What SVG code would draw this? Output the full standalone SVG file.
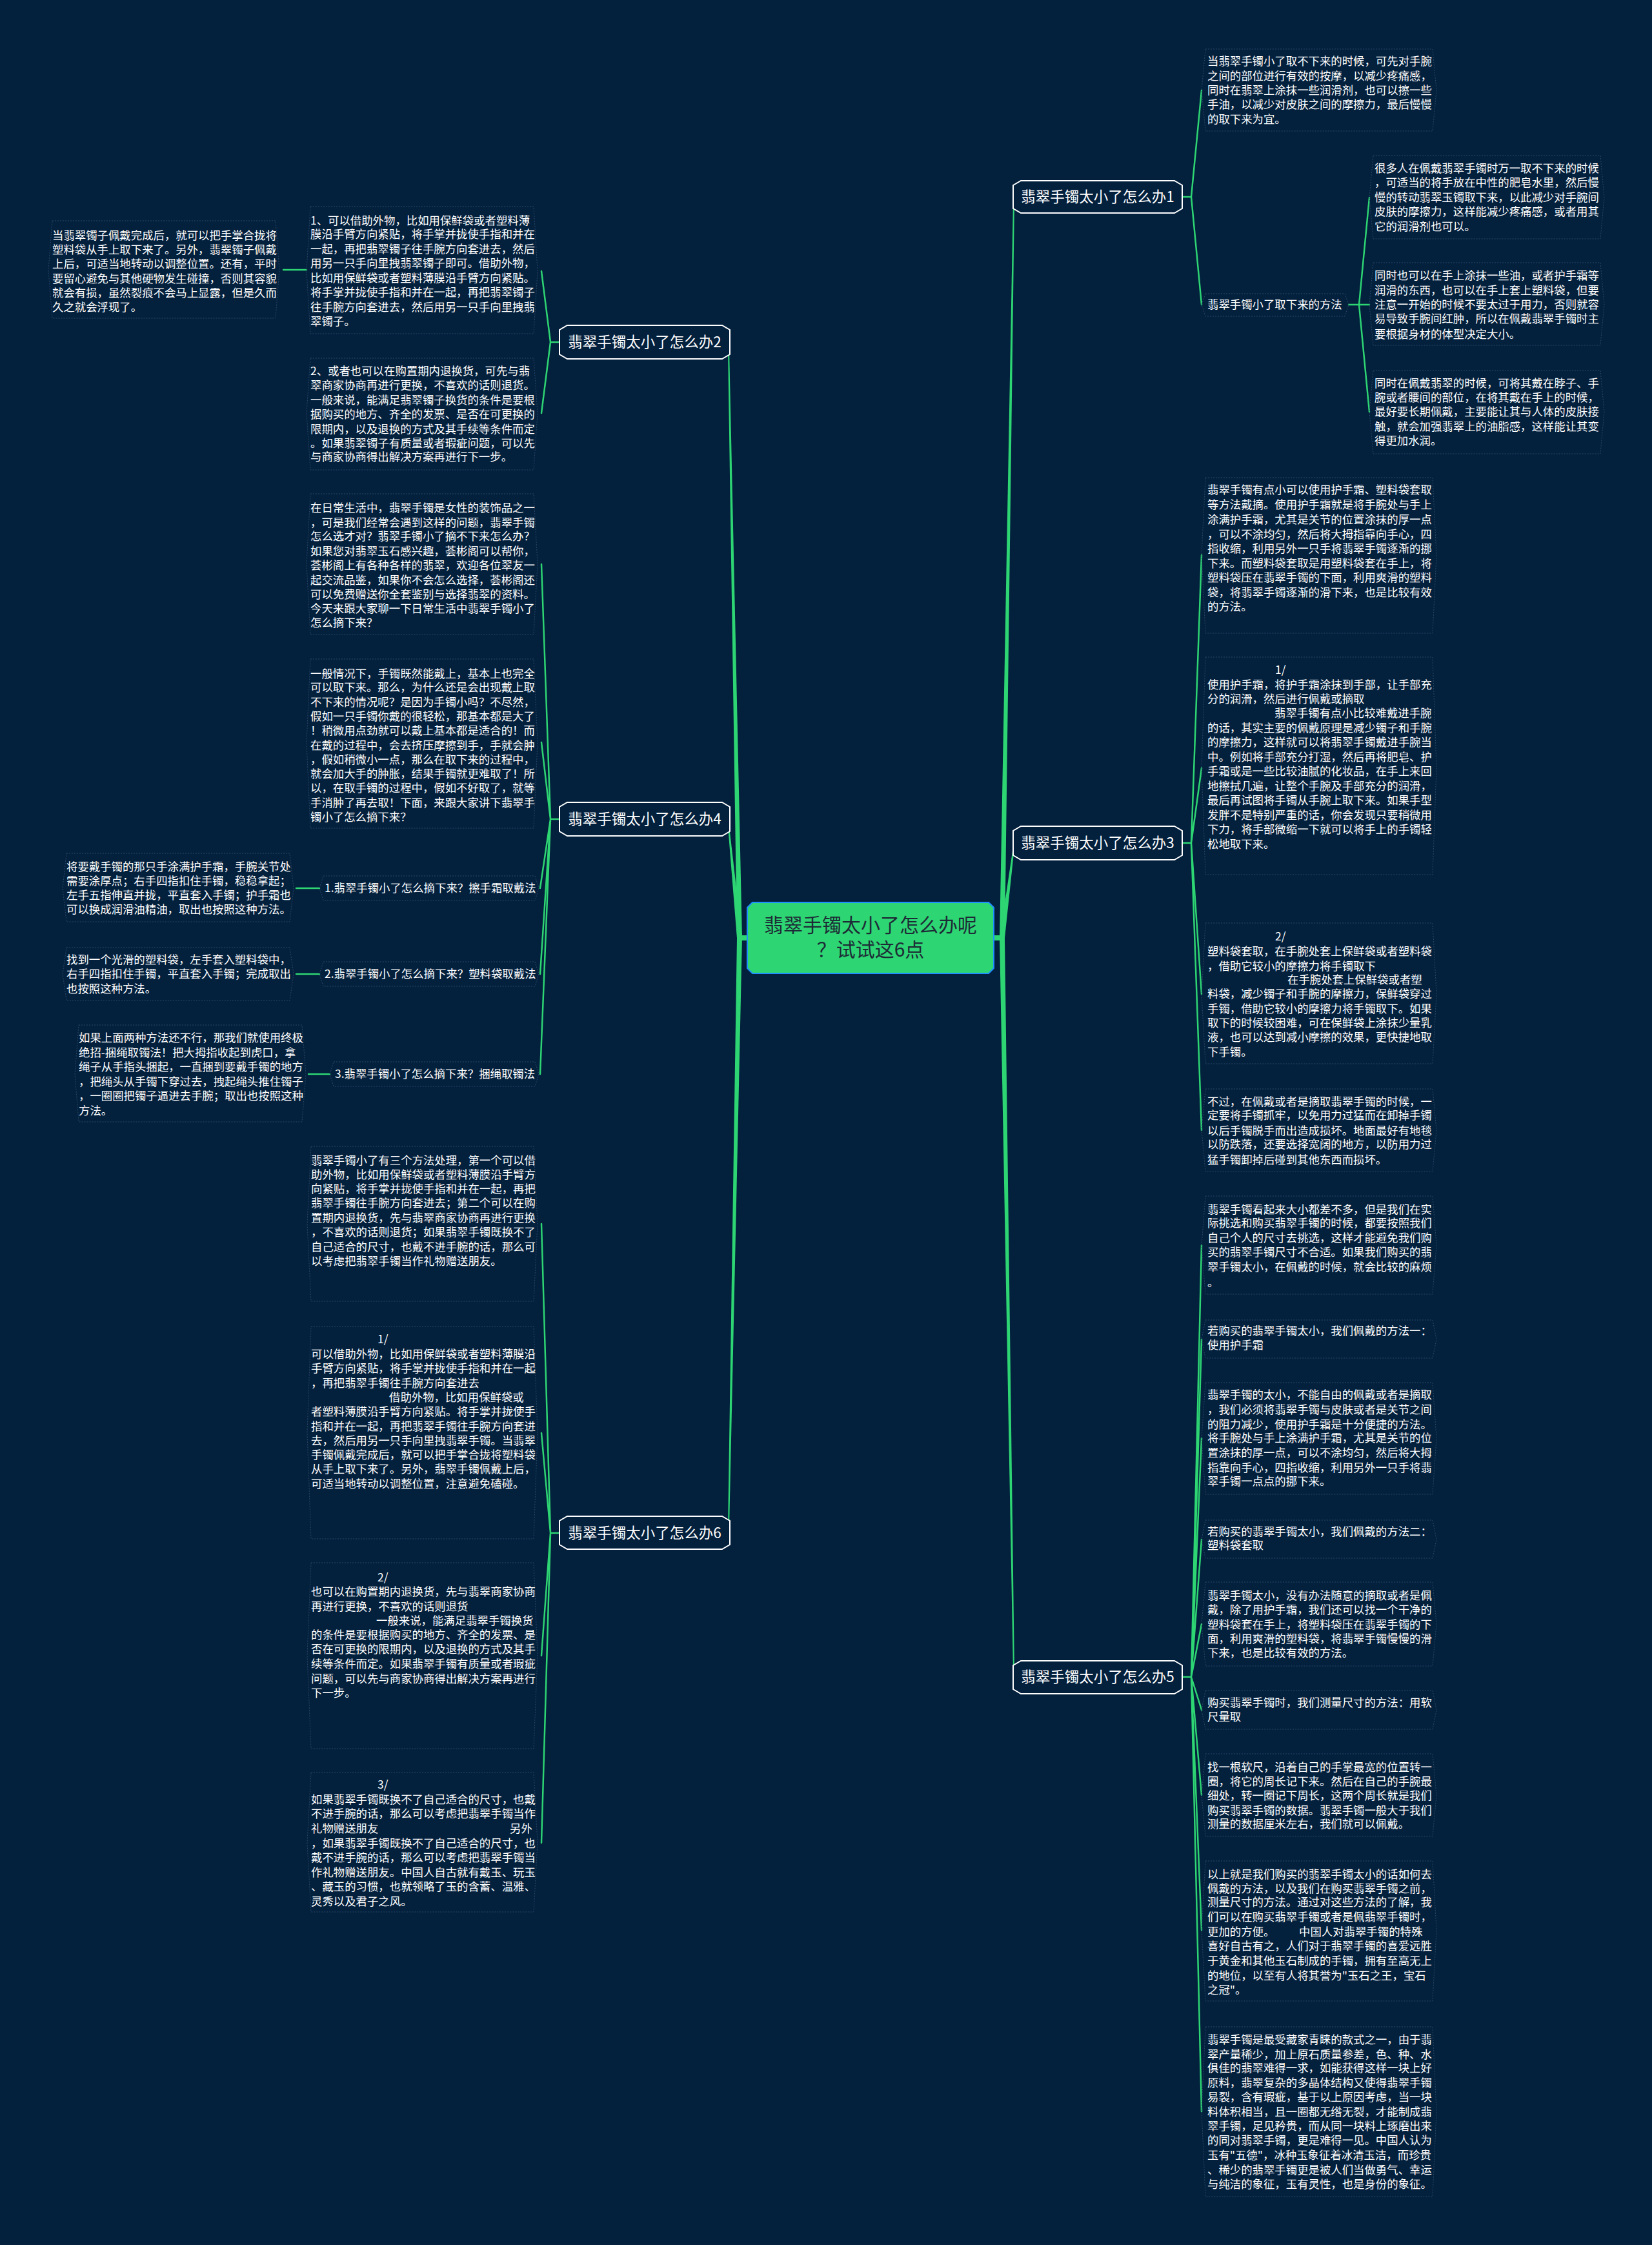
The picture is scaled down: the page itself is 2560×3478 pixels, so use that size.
<svg xmlns="http://www.w3.org/2000/svg" width="2560" height="3478" viewBox="0 0 2560 3478">
<style>
.t{font-family:"Noto Sans CJK SC","Noto Sans",sans-serif;font-size:17.4px;fill:#ffffff}
.bt{font-family:"Noto Sans CJK SC","Noto Sans",sans-serif;font-size:22.5px;fill:#ffffff;text-anchor:middle}
.ct{font-family:"Noto Sans CJK SC","Noto Sans",sans-serif;font-size:30px;fill:#1d2b36;text-anchor:middle}
.box{fill:none;stroke:#2a4866;stroke-width:1;stroke-dasharray:2 2}
.bn{fill:#03203d;stroke:#ffffff;stroke-width:2}
.cn{fill:#2ed573;stroke:#1e90ff;stroke-width:2}
.ln{fill:none;stroke:#2ed573;stroke-width:2.5;stroke-linecap:round;stroke-linejoin:round}
.tr{fill:#2ed573}
</style>
<rect width="2560" height="3478" fill="#03203d"/>

<g id="connectors">
<path class="tr" d="M1540,1449H1553V1457H1540Z"/>
<path class="tr" d="M1549,1453L1557,1453L1572,310L1570,310Z"/>
<path class="tr" d="M1549,1453L1557,1453L1572,1312L1570,1312Z"/>
<path class="tr" d="M1549,1453L1557,1453L1572,2590L1570,2590Z"/>
<path class="tr" d="M1158,1449H1145V1457H1158Z"/>
<path class="tr" d="M1142,1453L1150,1453L1130,540L1128,540Z"/>
<path class="tr" d="M1142,1453L1150,1453L1130,1280L1128,1280Z"/>
<path class="tr" d="M1142,1453L1150,1453L1130,2368L1128,2368Z"/>

<path class="ln" d="M1832,305H1846L1862,140M1846,305L1862,472"/>
<path class="ln" d="M2090,472H2106L2122,306M2106,472H2122M2106,472L2122,638"/>
<path class="ln" d="M1832,1306H1846L1862,860M1846,1306L1862,1190M1846,1306L1862,1540M1846,1306L1862,1751"/>
<path class="ln" d="M1832,2598H1846L1862,1929M1846,2598L1862,2075M1846,2598L1862,2228M1846,2598L1862,2385M1846,2598L1862,2516M1846,2598L1862,2649M1846,2598L1862,2781M1846,2598L1862,2990M1846,2598L1862,3271"/>

<path class="ln" d="M867,530H853L839,420M853,530L839,640"/>
<path class="ln" d="M475,418H439"/>
<path class="ln" d="M867,1269H853L839,874M853,1269L839,1150M853,1269L837,1376M853,1269L837,1509M853,1269L837,1664"/>
<path class="ln" d="M495,1376H459M495,1509H459M511,1664H478"/>
<path class="ln" d="M867,2375H853L839,1896M853,2375L839,2220M853,2375L839,2565M853,2375L839,2855"/>
</g>

<g id="center">
<path class="cn" d="M1166,1398H1532L1540,1406V1500L1532,1508H1166L1158,1500V1406Z"/>
<text class="ct" x="1349" y="1444">翡翠手镯太小了怎么办呢</text>
<text class="ct" x="1349" y="1482">？试试这6点</text>
</g>

<g id="b1">
<path class="bn" d="M1582,280H1820L1832,287V323L1820,330H1582L1570,323V287Z"/>
<text class="bt" x="1701" y="313">翡翠手镯太小了怎么办1</text>
</g>
<g id="b3">
<path class="bn" d="M1582,1280H1820L1832,1287V1325L1820,1332H1582L1570,1325V1287Z"/>
<text class="bt" x="1701" y="1314">翡翠手镯太小了怎么办3</text>
</g>
<g id="b5">
<path class="bn" d="M1582,2573H1820L1832,2580V2617L1820,2624H1582L1570,2617V2580Z"/>
<text class="bt" x="1701" y="2606">翡翠手镯太小了怎么办5</text>
</g>
<g id="b2">
<path class="bn" d="M879,504H1119L1131,511V549L1119,556H879L867,549V511Z"/>
<text class="bt" x="999" y="538">翡翠手镯太小了怎么办2</text>
</g>
<g id="b4">
<path class="bn" d="M879,1243H1119L1131,1250V1288L1119,1295H879L867,1288V1250Z"/>
<text class="bt" x="999" y="1277">翡翠手镯太小了怎么办4</text>
</g>
<g id="b6">
<path class="bn" d="M879,2349H1119L1131,2356V2393L1119,2400H879L867,2393V2356Z"/>
<text class="bt" x="999" y="2383">翡翠手镯太小了怎么办6</text>
</g>

<g id="n1a">
<path class="box" d="M1868,76H2220L2226,140L2220,203H1868L1862,140Z"/>
<text class="t"><tspan x="1871" y="101">当翡翠手镯小了取不下来的时候，可先对手腕</tspan><tspan x="1871" y="124">之间的部位进行有效的按摩，以减少疼痛感，</tspan><tspan x="1871" y="146">同时在翡翠上涂抹一些润滑剂，也可以擦一些</tspan><tspan x="1871" y="168">手油，以减少对皮肤之间的摩擦力，最后慢慢</tspan><tspan x="1871" y="191">的取下来为宜。</tspan></text>
</g>
<g id="n1s">
<path class="box" d="M1868,455H2084L2090,472L2084,490H1868L1862,472Z"/>
<text class="t" x="1871" y="478">翡翠手镯小了取下来的方法</text>
</g>
<g id="n1c1">
<path class="box" d="M2128,241H2480L2486,306L2480,370H2128L2122,306Z"/>
<text class="t"><tspan x="2130" y="267">很多人在佩戴翡翠手镯时万一取不下来的时候</tspan><tspan x="2130" y="289">，可适当的将手放在中性的肥皂水里，然后慢</tspan><tspan x="2130" y="312">慢的转动翡翠玉镯取下来，以此减少对手腕间</tspan><tspan x="2130" y="334">皮肤的摩擦力，这样能减少疼痛感，或者用其</tspan><tspan x="2130" y="357">它的润滑剂也可以。</tspan></text>
</g>
<g id="n1c2">
<path class="box" d="M2128,407H2480L2486,472L2480,535H2128L2122,472Z"/>
<text class="t"><tspan x="2130" y="433">同时也可以在手上涂抹一些油，或者护手霜等</tspan><tspan x="2130" y="456">润滑的东西，也可以在手上套上塑料袋，但要</tspan><tspan x="2130" y="478">注意一开始的时候不要太过于用力，否则就容</tspan><tspan x="2130" y="500">易导致手腕间红肿，所以在佩戴翡翠手镯时主</tspan><tspan x="2130" y="524">要根据身材的体型决定大小。</tspan></text>
</g>
<g id="n1c3">
<path class="box" d="M2128,574H2480L2486,638L2480,703H2128L2122,638Z"/>
<text class="t"><tspan x="2130" y="600">同时在佩戴翡翠的时候，可将其戴在脖子、手</tspan><tspan x="2130" y="622">腕或者腰间的部位，在将其戴在手上的时候，</tspan><tspan x="2130" y="644">最好要长期佩戴，主要能让其与人体的皮肤接</tspan><tspan x="2130" y="667">触，就会加强翡翠上的油脂感，这样能让其变</tspan><tspan x="2130" y="689">得更加水润。</tspan></text>
</g>

<g id="n3a">
<path class="box" d="M1868,740H2220L2226,860L2220,981H1868L1862,860Z"/>
<text class="t"><tspan x="1871" y="765">翡翠手镯有点小可以使用护手霜、塑料袋套取</tspan><tspan x="1871" y="788">等方法戴摘。使用护手霜就是将手腕处与手上</tspan><tspan x="1871" y="811">涂满护手霜，尤其是关节的位置涂抹的厚一点</tspan><tspan x="1871" y="834">，可以不涂均匀，然后将大拇指靠向手心，四</tspan><tspan x="1871" y="856">指收缩，利用另外一只手将翡翠手镯逐渐的挪</tspan><tspan x="1871" y="879">下来。而塑料袋套取是用塑料袋套在手上，将</tspan><tspan x="1871" y="901">塑料袋压在翡翠手镯的下面，利用爽滑的塑料</tspan><tspan x="1871" y="924">袋，将翡翠手镯逐渐的滑下来，也是比较有效</tspan><tspan x="1871" y="946">的方法。</tspan></text>
</g>
<g id="n3b">
<path class="box" d="M1868,1018H2220L2226,1190L2220,1355H1868L1862,1190Z"/>
<text class="t"><tspan x="1976" y="1044">1/</tspan><tspan x="1871" y="1067">使用护手霜，将护手霜涂抹到手部，让手部充</tspan><tspan x="1871" y="1089">分的润滑，然后进行佩戴或摘取</tspan><tspan x="1975" y="1111">翡翠手镯有点小比较难戴进手腕</tspan><tspan x="1871" y="1134">的话，其实主要的佩戴原理是减少镯子和手腕</tspan><tspan x="1871" y="1156">的摩擦力，这样就可以将翡翠手镯戴进手腕当</tspan><tspan x="1871" y="1179">中。例如将手部充分打湿，然后再将肥皂、护</tspan><tspan x="1871" y="1201">手霜或是一些比较油腻的化妆品，在手上来回</tspan><tspan x="1871" y="1224">地擦拭几遍，让整个手腕及手部充分的润滑，</tspan><tspan x="1871" y="1246">最后再试图将手镯从手腕上取下来。如果手型</tspan><tspan x="1871" y="1269">发胖不是特别严重的话，你会发现只要稍微用</tspan><tspan x="1871" y="1291">下力，将手部微缩一下就可以将手上的手镯轻</tspan><tspan x="1871" y="1314">松地取下来。</tspan></text>
</g>
<g id="n3c">
<path class="box" d="M1868,1430H2220L2226,1540L2220,1648H1868L1862,1540Z"/>
<text class="t"><tspan x="1976" y="1457">2/</tspan><tspan x="1871" y="1480">塑料袋套取，在手腕处套上保鲜袋或者塑料袋</tspan><tspan x="1871" y="1503">，借助它较小的摩擦力将手镯取下</tspan><tspan x="1995" y="1524">在手腕处套上保鲜袋或者塑</tspan><tspan x="1871" y="1546">料袋，减少镯子和手腕的摩擦力，保鲜袋穿过</tspan><tspan x="1871" y="1569">手镯，借助它较小的摩擦力将手镯取下。如果</tspan><tspan x="1871" y="1591">取下的时候较困难，可在保鲜袋上涂抹少量乳</tspan><tspan x="1871" y="1613">液，也可以达到减小摩擦的效果，更快捷地取</tspan><tspan x="1871" y="1636">下手镯。</tspan></text>
</g>
<g id="n3d">
<path class="box" d="M1868,1687H2220L2226,1751L2220,1815H1868L1862,1751Z"/>
<text class="t"><tspan x="1871" y="1713">不过，在佩戴或者是摘取翡翠手镯的时候，一</tspan><tspan x="1871" y="1734">定要将手镯抓牢，以免用力过猛而在卸掉手镯</tspan><tspan x="1871" y="1758">以后手镯脱手而出造成损坏。地面最好有地毯</tspan><tspan x="1871" y="1779">以防跌落，还要选择宽阔的地方，以防用力过</tspan><tspan x="1871" y="1803">猛手镯卸掉后碰到其他东西而损坏。</tspan></text>
</g>

<g id="n5a">
<path class="box" d="M1868,1853H2220L2226,1929L2220,2005H1868L1862,1929Z"/>
<text class="t"><tspan x="1871" y="1880">翡翠手镯看起来大小都差不多，但是我们在实</tspan><tspan x="1871" y="1901">际挑选和购买翡翠手镯的时候，都要按照我们</tspan><tspan x="1871" y="1924">自己个人的尺寸去挑选，这样才能避免我们购</tspan><tspan x="1871" y="1946">买的翡翠手镯尺寸不合适。如果我们购买的翡</tspan><tspan x="1871" y="1969">翠手镯太小，在佩戴的时候，就会比较的麻烦</tspan><tspan x="1871" y="1993">。</tspan></text>
</g>
<g id="n5b">
<path class="box" d="M1868,2045H2220L2226,2075L2220,2104H1868L1862,2075Z"/>
<text class="t"><tspan x="1871" y="2068">若购买的翡翠手镯太小，我们佩戴的方法一：</tspan><tspan x="1871" y="2090">使用护手霜</tspan></text>
</g>
<g id="n5c">
<path class="box" d="M1868,2142H2220L2226,2228L2220,2315H1868L1862,2228Z"/>
<text class="t"><tspan x="1871" y="2167">翡翠手镯的太小，不能自由的佩戴或者是摘取</tspan><tspan x="1871" y="2190">，我们必须将翡翠手镯与皮肤或者是关节之间</tspan><tspan x="1871" y="2213">的阻力减少，使用护手霜是十分便捷的方法。</tspan><tspan x="1871" y="2234">将手腕处与手上涂满护手霜，尤其是关节的位</tspan><tspan x="1871" y="2257">置涂抹的厚一点，可以不涂均匀，然后将大拇</tspan><tspan x="1871" y="2280">指靠向手心，四指收缩，利用另外一只手将翡</tspan><tspan x="1871" y="2301">翠手镯一点点的挪下来。</tspan></text>
</g>
<g id="n5d">
<path class="box" d="M1868,2355H2220L2226,2385L2220,2414H1868L1862,2385Z"/>
<text class="t"><tspan x="1871" y="2379">若购买的翡翠手镯太小，我们佩戴的方法二：</tspan><tspan x="1871" y="2400">塑料袋套取</tspan></text>
</g>
<g id="n5e">
<path class="box" d="M1868,2451H2220L2226,2516L2220,2581H1868L1862,2516Z"/>
<text class="t"><tspan x="1871" y="2478">翡翠手镯太小，没有办法随意的摘取或者是佩</tspan><tspan x="1871" y="2500">戴，除了用护手霜，我们还可以找一个干净的</tspan><tspan x="1871" y="2523">塑料袋套在手上，将塑料袋压在翡翠手镯的下</tspan><tspan x="1871" y="2545">面，利用爽滑的塑料袋，将翡翠手镯慢慢的滑</tspan><tspan x="1871" y="2567">下来，也是比较有效的方法。</tspan></text>
</g>
<g id="n5f">
<path class="box" d="M1868,2619H2220L2226,2649L2220,2679H1868L1862,2649Z"/>
<text class="t"><tspan x="1871" y="2644">购买翡翠手镯时，我们测量尺寸的方法：用软</tspan><tspan x="1871" y="2666">尺量取</tspan></text>
</g>
<g id="n5g">
<path class="box" d="M1868,2717H2220L2226,2781L2220,2845H1868L1862,2781Z"/>
<text class="t"><tspan x="1871" y="2744">找一根软尺，沿着自己的手掌最宽的位置转一</tspan><tspan x="1871" y="2766">圈，将它的周长记下来。然后在自己的手腕最</tspan><tspan x="1871" y="2788">细处，转一圈记下周长，这两个周长就是我们</tspan><tspan x="1871" y="2811">购买翡翠手镯的数据。翡翠手镯一般大于我们</tspan><tspan x="1871" y="2832">测量的数据厘米左右，我们就可以佩戴。</tspan></text>
</g>
<g id="n5h">
<path class="box" d="M1868,2883H2220L2226,2990L2220,3100H1868L1862,2990Z"/>
<text class="t"><tspan x="1871" y="2910">以上就是我们购买的翡翠手镯太小的话如何去</tspan><tspan x="1871" y="2932">佩戴的方法，以及我们在购买翡翠手镯之前，</tspan><tspan x="1871" y="2953">测量尺寸的方法。通过对这些方法的了解，我</tspan><tspan x="1871" y="2976">们可以在购买翡翠手镯或者是佩翡翠手镯时，</tspan><tspan x="1871" y="2999">更加的方便。</tspan><tspan x="2013" y="2999">中国人对翡翠手镯的特殊</tspan><tspan x="1871" y="3021">喜好自古有之，人们对于翡翠手镯的喜爱远胜</tspan><tspan x="1871" y="3044">于黄金和其他玉石制成的手镯，拥有至高无上</tspan><tspan x="1871" y="3067">的地位，以至有人将其誉为"玉石之王，宝石</tspan><tspan x="1871" y="3089">之冠"。</tspan></text>
</g>
<g id="n5i">
<path class="box" d="M1868,3140H2220L2226,3271L2220,3403H1868L1862,3271Z"/>
<text class="t"><tspan x="1871" y="3166">翡翠手镯是最受藏家青睐的款式之一，由于翡</tspan><tspan x="1871" y="3189">翠产量稀少，加上原石质量参差，色、种、水</tspan><tspan x="1871" y="3210">俱佳的翡翠难得一求，如能获得这样一块上好</tspan><tspan x="1871" y="3233">原料，翡翠复杂的多晶体结构又使得翡翠手镯</tspan><tspan x="1871" y="3255">易裂，含有瑕疵，基于以上原因考虑，当一块</tspan><tspan x="1871" y="3278">料体积相当，且一圈都无绺无裂，才能制成翡</tspan><tspan x="1871" y="3300">翠手镯，足见矜贵，而从同一块料上琢磨出来</tspan><tspan x="1871" y="3322">的同对翡翠手镯，更是难得一见。中国人认为</tspan><tspan x="1871" y="3345">玉有"五德"，冰种玉象征着冰清玉洁，而珍贵</tspan><tspan x="1871" y="3368">、稀少的翡翠手镯更是被人们当做勇气、幸运</tspan><tspan x="1871" y="3390">与纯洁的象征，玉有灵性，也是身份的象征。</tspan></text>
</g>

<g id="n2a">
<path class="box" d="M481,320H827L833,420L827,517H481L475,420Z"/>
<text class="t"><tspan x="481" y="348">1、可以借助外物，比如用保鲜袋或者塑料薄</tspan><tspan x="481" y="369">膜沿手臂方向紧贴，将手掌并拢使手指和并在</tspan><tspan x="481" y="392">一起，再把翡翠镯子往手腕方向套进去，然后</tspan><tspan x="481" y="414">用另一只手向里拽翡翠镯子即可。借助外物，</tspan><tspan x="481" y="437">比如用保鲜袋或者塑料薄膜沿手臂方向紧贴。</tspan><tspan x="481" y="459">将手掌并拢使手指和并在一起，再把翡翠镯子</tspan><tspan x="481" y="482">往手腕方向套进去，然后用另一只手向里拽翡</tspan><tspan x="481" y="504">翠镯子。</tspan></text>
</g>
<g id="n2a1">
<path class="box" d="M81,342H427L433,418L427,493H81L75,418Z"/>
<text class="t"><tspan x="81" y="371">当翡翠镯子佩戴完成后，就可以把手掌合拢将</tspan><tspan x="81" y="393">塑料袋从手上取下来了。另外，翡翠镯子佩戴</tspan><tspan x="81" y="415">上后，可适当地转动以调整位置。还有，平时</tspan><tspan x="81" y="438">要留心避免与其他硬物发生碰撞，否则其容貌</tspan><tspan x="81" y="460">就会有损，虽然裂痕不会马上显露，但是久而</tspan><tspan x="81" y="482">久之就会浮现了。</tspan></text>
</g>
<g id="n2b">
<path class="box" d="M481,555H827L833,640L827,728H481L475,640Z"/>
<text class="t"><tspan x="481" y="581">2、或者也可以在购置期内退换货，可先与翡</tspan><tspan x="481" y="603">翠商家协商再进行更换，不喜欢的话则退货。</tspan><tspan x="481" y="626">一般来说，能满足翡翠镯子换货的条件是要根</tspan><tspan x="481" y="648">据购买的地方、齐全的发票、是否在可更换的</tspan><tspan x="481" y="671">限期内，以及退换的方式及其手续等条件而定</tspan><tspan x="481" y="693">。如果翡翠镯子有质量或者瑕疵问题，可以先</tspan><tspan x="481" y="714">与商家协商得出解决方案再进行下一步。</tspan></text>
</g>

<g id="n4a">
<path class="box" d="M481,765H827L833,874L827,983H481L475,874Z"/>
<text class="t"><tspan x="481" y="793">在日常生活中，翡翠手镯是女性的装饰品之一</tspan><tspan x="481" y="816">，可是我们经常会遇到这样的问题，翡翠手镯</tspan><tspan x="481" y="837">怎么选才对？翡翠手镯小了摘不下来怎么办？</tspan><tspan x="481" y="860">如果您对翡翠玉石感兴趣，荟彬阁可以帮你，</tspan><tspan x="481" y="882">荟彬阁上有各种各样的翡翠，欢迎各位翠友一</tspan><tspan x="481" y="905">起交流品鉴，如果你不会怎么选择，荟彬阁还</tspan><tspan x="481" y="927">可以免费赠送你全套鉴别与选择翡翠的资料。</tspan><tspan x="481" y="949">今天来跟大家聊一下日常生活中翡翠手镯小了</tspan><tspan x="481" y="971">怎么摘下来？</tspan></text>
</g>
<g id="n4b">
<path class="box" d="M481,1021H827L833,1150L827,1283H481L475,1150Z"/>
<text class="t"><tspan x="481" y="1050">一般情况下，手镯既然能戴上，基本上也完全</tspan><tspan x="481" y="1071">可以取下来。那么，为什么还是会出现戴上取</tspan><tspan x="481" y="1094">不下来的情况呢？是因为手镯小吗？不尽然，</tspan><tspan x="481" y="1116">假如一只手镯你戴的很轻松，那基本都是大了</tspan><tspan x="481" y="1138">！稍微用点劲就可以戴上基本都是适合的！而</tspan><tspan x="481" y="1161">在戴的过程中，会去挤压摩擦到手，手就会肿</tspan><tspan x="481" y="1183">，假如稍微小一点，那么在取下来的过程中，</tspan><tspan x="481" y="1205">就会加大手的肿胀，结果手镯就更难取了！所</tspan><tspan x="481" y="1227">以，在取手镯的过程中，假如不好取了，就等</tspan><tspan x="481" y="1250">手消肿了再去取！下面，来跟大家讲下翡翠手</tspan><tspan x="481" y="1272">镯小了怎么摘下来？</tspan></text>
</g>
<g id="n4c">
<path class="box" d="M501,1357H829L835,1376L829,1395H501L495,1376Z"/>
<text class="t" x="503" y="1382">1.翡翠手镯小了怎么摘下来？擦手霜取戴法</text>
</g>
<g id="n4c1">
<path class="box" d="M103,1322H449L455,1376L449,1428H103L97,1376Z"/>
<text class="t"><tspan x="103" y="1349">将要戴手镯的那只手涂满护手霜，手腕关节处</tspan><tspan x="103" y="1371">需要涂厚点；右手四指扣住手镯，稳稳拿起；</tspan><tspan x="103" y="1393">左手五指伸直并拢，平直套入手镯；护手霜也</tspan><tspan x="103" y="1415">可以换成润滑油精油，取出也按照这种方法。</tspan></text>
</g>
<g id="n4d">
<path class="box" d="M501,1490H829L835,1509L829,1528H501L495,1509Z"/>
<text class="t" x="503" y="1515">2.翡翠手镯小了怎么摘下来？塑料袋取戴法</text>
</g>
<g id="n4d1">
<path class="box" d="M103,1468H449L455,1509L449,1550H103L97,1509Z"/>
<text class="t"><tspan x="103" y="1493">找到一个光滑的塑料袋，左手套入塑料袋中，</tspan><tspan x="103" y="1515">右手四指扣住手镯，平直套入手镯；完成取出</tspan><tspan x="103" y="1538">也按照这种方法。</tspan></text>
</g>
<g id="n4e">
<path class="box" d="M517,1645H829L835,1664L829,1683H517L511,1664Z"/>
<text class="t" x="519" y="1670">3.翡翠手镯小了怎么摘下来？捆绳取镯法</text>
</g>
<g id="n4e1">
<path class="box" d="M122,1588H468L474,1664L468,1738H122L116,1664Z"/>
<text class="t"><tspan x="122" y="1614">如果上面两种方法还不行，那我们就使用终极</tspan><tspan x="122" y="1637">绝招-捆绳取镯法！把大拇指收起到虎口，拿</tspan><tspan x="122" y="1659">绳子从手指头捆起，一直捆到要戴手镯的地方</tspan><tspan x="122" y="1682">，把绳头从手镯下穿过去，拽起绳头推住镯子</tspan><tspan x="122" y="1704">，一圈圈把镯子逼进去手腕；取出也按照这种</tspan><tspan x="122" y="1727">方法。</tspan></text>
</g>

<g id="n6a">
<path class="box" d="M482,1776H827L833,1896L827,2016H482L476,1896Z"/>
<text class="t"><tspan x="482" y="1804">翡翠手镯小了有三个方法处理，第一个可以借</tspan><tspan x="482" y="1826">助外物，比如用保鲜袋或者塑料薄膜沿手臂方</tspan><tspan x="482" y="1848">向紧贴，将手掌并拢使手指和并在一起，再把</tspan><tspan x="482" y="1870">翡翠手镯往手腕方向套进去；第二个可以在购</tspan><tspan x="482" y="1893">置期内退换货，先与翡翠商家协商再进行更换</tspan><tspan x="482" y="1915">，不喜欢的话则退货；如果翡翠手镯既换不了</tspan><tspan x="482" y="1938">自己适合的尺寸，也戴不进手腕的话，那么可</tspan><tspan x="482" y="1960">以考虑把翡翠手镯当作礼物赠送朋友。</tspan></text>
</g>
<g id="n6b">
<path class="box" d="M482,2055H827L833,2220L827,2384H482L476,2220Z"/>
<text class="t"><tspan x="585" y="2081">1/</tspan><tspan x="482" y="2104">可以借助外物，比如用保鲜袋或者塑料薄膜沿</tspan><tspan x="482" y="2126">手臂方向紧贴，将手掌并拢使手指和并在一起</tspan><tspan x="482" y="2149">，再把翡翠手镯往手腕方向套进去</tspan><tspan x="603" y="2171">借助外物，比如用保鲜袋或</tspan><tspan x="482" y="2193">者塑料薄膜沿手臂方向紧贴。将手掌并拢使手</tspan><tspan x="482" y="2216">指和并在一起，再把翡翠手镯往手腕方向套进</tspan><tspan x="482" y="2238">去，然后用另一只手向里拽翡翠手镯。当翡翠</tspan><tspan x="482" y="2260">手镯佩戴完成后，就可以把手掌合拢将塑料袋</tspan><tspan x="482" y="2282">从手上取下来了。另外，翡翠手镯佩戴上后，</tspan><tspan x="482" y="2305">可适当地转动以调整位置，注意避免磕碰。</tspan></text>
</g>
<g id="n6c">
<path class="box" d="M482,2421H827L833,2565L827,2709H482L476,2565Z"/>
<text class="t"><tspan x="585" y="2450">2/</tspan><tspan x="482" y="2472">也可以在购置期内退换货，先与翡翠商家协商</tspan><tspan x="482" y="2495">再进行更换，不喜欢的话则退货</tspan><tspan x="583" y="2517">一般来说，能满足翡翠手镯换货</tspan><tspan x="482" y="2539">的条件是要根据购买的地方、齐全的发票、是</tspan><tspan x="482" y="2561">否在可更换的限期内，以及退换的方式及其手</tspan><tspan x="482" y="2584">续等条件而定。如果翡翠手镯有质量或者瑕疵</tspan><tspan x="482" y="2607">问题，可以先与商家协商得出解决方案再进行</tspan><tspan x="482" y="2629">下一步。</tspan></text>
</g>
<g id="n6d">
<path class="box" d="M482,2746H827L833,2855L827,2962H482L476,2855Z"/>
<text class="t"><tspan x="585" y="2771">3/</tspan><tspan x="482" y="2794">如果翡翠手镯既换不了自己适合的尺寸，也戴</tspan><tspan x="482" y="2816">不进手腕的话，那么可以考虑把翡翠手镯当作</tspan><tspan x="482" y="2839">礼物赠送朋友</tspan><tspan x="790" y="2839">另外</tspan><tspan x="482" y="2862">，如果翡翠手镯既换不了自己适合的尺寸，也</tspan><tspan x="482" y="2884">戴不进手腕的话，那么可以考虑把翡翠手镯当</tspan><tspan x="482" y="2907">作礼物赠送朋友。中国人自古就有戴玉、玩玉</tspan><tspan x="482" y="2929">、藏玉的习惯，也就领略了玉的含蓄、温雅、</tspan><tspan x="482" y="2952">灵秀以及君子之风。</tspan></text>
</g>
</svg>
